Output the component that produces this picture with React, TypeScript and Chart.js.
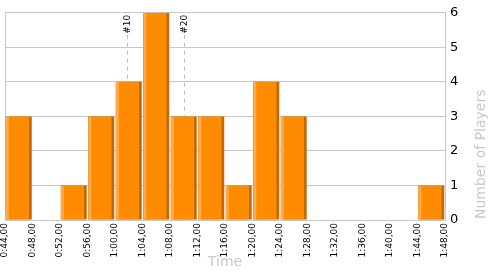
import React, { useEffect, useRef } from "react";
import { Chart, registerables } from "chart.js";

Chart.register(...registerables);

// Histogram bins (seconds): start of each 4-second bin
const binStarts = [44, 48, 52, 56, 60, 64, 68, 72, 76, 80, 84, 88, 92, 96, 100, 104];
const binWidth = 4;
const playerCounts = [3, 0, 1, 3, 4, 6, 3, 3, 1, 4, 3, 0, 0, 0, 0, 1];
const xMin = 44;
const xMax = 108;
const yMax = 6;
const markers = [
  { label: "#10", time: 61.8 },
  { label: "#20", time: 70.0 },
];
const xTitle = "Time";
const yTitle = "Number of Players";

const FONT = "'DejaVu Sans', sans-serif";
const GRID = "#c8c8c8";
const MAIN = "#ff8c00";
const LIGHT = "#ffaa48";
const DARK = "#c46800";

function fmt(v: number) {
  const m = Math.floor(v / 60);
  const s = Math.round(v % 60);
  return `${m}:${String(s).padStart(2, "0")},00`;
}

const points = binStarts.map((b, i) => ({ x: b + binWidth / 2, y: playerCounts[i] }));

const markerPlugin = {
  id: "markers",
  beforeDatasetsDraw(chart: any) {
    const { ctx, chartArea, scales } = chart;
    ctx.save();
    for (const m of markers) {
      const x = Math.round(scales.x.getPixelForValue(m.time)) + 0.5;
      ctx.strokeStyle = "#bdbdbd";
      ctx.lineWidth = 1;
      ctx.setLineDash([4, 4]);
      ctx.beginPath();
      ctx.moveTo(x, chartArea.top + 22);
      ctx.lineTo(x, chartArea.bottom);
      ctx.stroke();
      ctx.setLineDash([]);
      ctx.save();
      ctx.translate(x, chartArea.top + 2);
      ctx.rotate(-Math.PI / 2);
      ctx.fillStyle = "#000";
      ctx.font = `9px ${FONT}`;
      ctx.textAlign = "right";
      ctx.textBaseline = "middle";
      ctx.fillText(m.label, 0, 0);
      ctx.restore();
    }
    ctx.restore();
  },
  afterDraw(chart: any) {
    const { ctx, chartArea } = chart;
    ctx.save();
    ctx.translate(481, chartArea.bottom - 1);
    ctx.rotate(-Math.PI / 2);
    ctx.fillStyle = GRID;
    ctx.font = `14px ${FONT}`;
    ctx.textAlign = "left";
    ctx.textBaseline = "middle";
    ctx.fillText(yTitle, 0, 0);
    ctx.restore();
  },
};

export default function App() {
  const ref = useRef<HTMLCanvasElement>(null);
  useEffect(() => {
    if (!ref.current) return;
    const common = {
      barPercentage: 1,
      categoryPercentage: 0.945,
      grouped: false,
      inflateAmount: 0,
      borderSkipped: false,
    };
    const chart = new Chart(ref.current, {
      type: "bar",
      data: {
        datasets: [
          {
            ...common,
            data: points,
            backgroundColor: MAIN,
            borderColor: "rgba(0,0,0,0)",
            borderWidth: { left: 3, right: 3, top: 0, bottom: 0 },
            order: 1,
          },
          {
            ...common,
            data: points,
            backgroundColor: LIGHT,
            borderColor: "rgba(0,0,0,0)",
            borderWidth: { left: 0, right: 3, top: 0, bottom: 0 },
            order: 2,
          },
          {
            ...common,
            data: points,
            backgroundColor: DARK,
            borderWidth: 0,
            order: 3,
          },
        ] as any,
      },
      options: {
        animation: false,
        responsive: false,
        events: [],
        layout: { padding: { left: 5, top: 10, right: 0, bottom: 0 } },
        plugins: { legend: { display: false }, tooltip: { enabled: false } },
        scales: {
          x: {
            type: "linear",
            min: xMin,
            max: xMax,
            offset: false,
            grid: {
              offset: false,
              drawTicks: false,
              color: (c: any) => (c.index === 0 ? GRID : "rgba(0,0,0,0)"),
            },
            border: { display: true, color: GRID },
            ticks: {
              stepSize: binWidth,
              autoSkip: false,
              minRotation: 90,
              maxRotation: 90,
              padding: 3,
              color: "#000",
              font: { family: FONT, size: 9 },
              callback: (v: any) => fmt(Number(v)),
            },
            title: {
              display: true,
              text: xTitle,
              color: GRID,
              font: { family: FONT, size: 14 },
            },
            afterFit: (s: any) => {
              s.height = 55;
            },
          },
          y: {
            position: "right",
            min: 0,
            max: yMax,
            grid: { color: GRID, drawTicks: false },
            border: { display: true, color: GRID },
            ticks: {
              stepSize: 1,
              padding: 5,
              color: "#000",
              font: { family: FONT, size: 13 },
            },
            afterFit: (s: any) => {
              s.width = 55;
            },
          },
        },
      } as any,
      plugins: [markerPlugin],
    });
    return () => chart.destroy();
  }, []);
  return (
    <div style={{ position: "fixed", left: 0, top: 0, width: 500, height: 275, background: "#fff" }}>
      <canvas ref={ref} width={500} height={275} />
    </div>
  );
}
